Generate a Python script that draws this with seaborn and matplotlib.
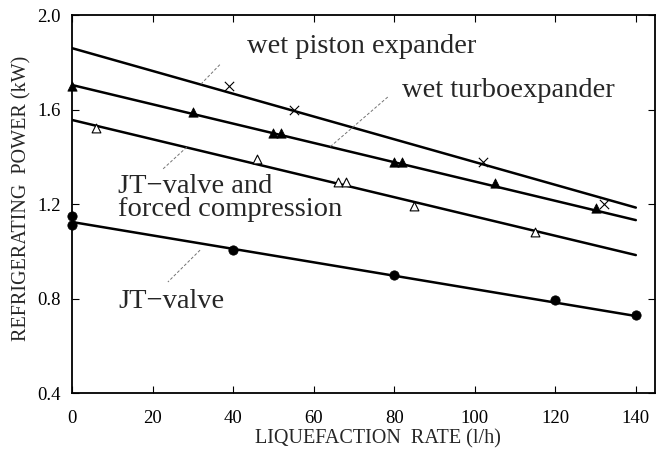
import pandas as pd
import seaborn as sns
import matplotlib.pyplot as plt

sns.set_style('ticks')
plt.rcParams['font.family'] = ['Liberation Serif', 'DejaVu Serif']

# Fitted lines (end points)
line_x = [0, 140]
piston_line = [1.86, 1.185]
turbo_line = [1.704, 1.132]
forced_line = [1.556, 0.984]
jt_line = [1.124, 0.726]

# Measured points
piston_x = [39, 55, 102, 132]
piston_y = [1.70, 1.60, 1.38, 1.20]
turbo_x = [0, 30, 50, 52, 80, 82, 105, 130]
turbo_y = [1.70, 1.59, 1.50, 1.50, 1.38, 1.38, 1.29, 1.185]
forced_x = [6, 46, 66, 68, 85, 115]
forced_y = [1.52, 1.39, 1.295, 1.295, 1.19, 1.08]
jt_x = [0, 0, 40, 80, 120, 140]
jt_y = [1.15, 1.11, 1.005, 0.90, 0.795, 0.73]

# Curve labels: (text, x, y) and leader lines: (x0, y0, x1, y1)
labels = [('wet piston expander', 43.4, 1.839),
          ('wet turboexpander', 81.9, 1.653),
          ('JT\u2212valve and', 11.4, 1.247),
          ('forced compression', 11.4, 1.149),
          ('JT\u2212valve', 11.4, 0.76)]
leaders = [(36.7, 1.79, 31.8, 1.704),
           (78.4, 1.653, 64.0, 1.441),
           (28.5, 1.441, 22.3, 1.344),
           (31.8, 1.005, 23.8, 0.87)]

lines = pd.DataFrame({
    'x': line_x * 4,
    'y': piston_line + turbo_line + forced_line + jt_line,
    'curve': ['piston'] * 2 + ['turbo'] * 2 + ['forced'] * 2 + ['jt'] * 2,
})

fig = plt.figure(figsize=(6.57, 4.57), dpi=100)
ax = fig.add_axes([0.1096, 0.140, 0.887, 0.827])

sns.lineplot(data=lines, x='x', y='y', units='curve', estimator=None,
             color='black', lw=1.8, ax=ax, legend=False)

sns.scatterplot(x=piston_x, y=piston_y, marker='x', s=45, color='black',
                linewidth=0.8, ax=ax, clip_on=False)
sns.scatterplot(x=turbo_x, y=turbo_y, marker='^', s=45, color='black',
                edgecolor='black', ax=ax, clip_on=False, zorder=3)
sns.scatterplot(x=forced_x, y=forced_y, marker='^', s=40, facecolor='white',
                edgecolor='black', linewidth=0.8, ax=ax, clip_on=False, zorder=3)
sns.scatterplot(x=jt_x, y=jt_y, marker='o', s=45, color='black',
                edgecolor='black', ax=ax, clip_on=False, zorder=3)

for x0, y0, x1, y1 in leaders:
    ax.plot([x0, x1], [y0, y1], color='0.45', lw=0.7, ls=(0, (3, 2)))

for txt, x, y in labels:
    ax.text(x, y, txt, fontsize=20.5, va='baseline', ha='left')

ax.set_xlim(0, 144.7)
ax.set_ylim(0.4, 2.0)
ax.set_xticks(range(0, 141, 20))
ax.set_yticks([0.4, 0.8, 1.2, 1.6, 2.0])
ax.set_yticklabels(['0.4', '0.8', '1.2', '1.6', '2.0'])
ax.tick_params(direction='in', length=5, width=0.8, labelsize=13.5,
               top=True, right=True, colors='black')
ax.tick_params(axis='x', pad=12)
ax.tick_params(axis='y', pad=8)
for sp in ax.spines.values():
    sp.set_linewidth(1.3)
    sp.set_color('black')

ax.set_xlabel('LIQUEFACTION  RATE (l/h)', fontsize=14.5)
ax.set_ylabel('REFRIGERATING  POWER (kW)', fontsize=14.5)
ax.xaxis.set_label_coords(0.525, -0.095)
ax.yaxis.set_label_coords(-0.069, 0.515)

plt.savefig('out.png', dpi=100)
